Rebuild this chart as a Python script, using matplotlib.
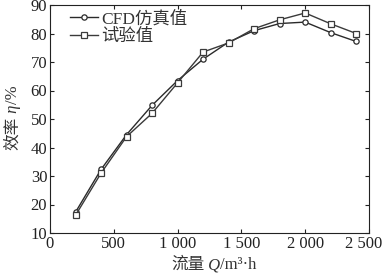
import matplotlib
matplotlib.use("Agg")
import matplotlib.pyplot as plt
import matplotlib.transforms as mtransforms

flow = [200, 400, 600, 800, 1000, 1200, 1400, 1600, 1800, 2000, 2200, 2400]
eff_cfd = [17.3, 32.3, 44.5, 54.8, 63.5, 71.0, 77.0, 81.0, 83.5, 84.0, 80.3, 77.2]
eff_test = [16.2, 31.0, 43.8, 52.0, 62.7, 73.5, 76.7, 81.7, 84.8, 87.2, 83.4, 80.0]
xticks = [0, 500, 1000, 1500, 2000, 2500]
xticklabels = ["0", "500", "1 000", "1 500", "2 000", "2 500"]
yticks = [10, 20, 30, 40, 50, 60, 70, 80, 90]

SERIF = ["Liberation Serif", "Noto Sans CJK SC"]
CJK = ["Noto Sans CJK SC", "Liberation Serif"]
plt.rcParams["font.family"] = SERIF
plt.rcParams["font.size"] = 12

W, H = 386, 276
fig = plt.figure(figsize=(W / 100, H / 100), dpi=100)
ax = fig.add_axes([50 / W, (H - 233) / H, 319 / W, 228 / H])

ax.plot(flow, eff_cfd, color="#2a2a2a", lw=1.0, marker="o", ms=3.8,
        mfc="white", mec="#2a2a2a", mew=0.9, label="CFD仿真值")
ax.plot(flow, eff_test, color="#3a3a3a", lw=1.0, marker="s", ms=4.6,
        mfc="white", mec="#3a3a3a", mew=0.9, label="试验值")

ax.set_xlim(0, 2500)
ax.set_ylim(10, 90)
ax.set_xticks(xticks)
ax.set_xticklabels(xticklabels)
ax.set_yticks(yticks)
ax.tick_params(direction="in", top=True, right=True, length=3, width=0.8,
               colors="#222222", labelsize=12, pad=2)
for s in ax.spines.values():
    s.set_linewidth(0.8)
    s.set_color("#222222")

# last x label sits a little left of its tick so it stays inside the picture
last = ax.get_xticklabels()[-1]
last.set_transform(last.get_transform() +
                   mtransforms.ScaledTranslation(-5 / 100, 0, fig.dpi_scale_trans))

leg = ax.legend(loc="upper left", frameon=False, fontsize=12.5, handlelength=1.6,
                handletextpad=0.2, labelspacing=0.1, borderaxespad=0.0,
                borderpad=0.0, bbox_to_anchor=(0.063, 0.975))
for t in leg.get_texts():
    t.set_color("#333333")


# axis titles mix CJK and italic serif letters, so draw them piece by piece
def pieces_label(x0, y0, pieces, vertical=False):
    r = fig.canvas.get_renderer()
    widths = []
    for txt, kw in pieces:
        t = fig.text(0, 0, txt, **kw)
        bb = t.get_window_extent(r)
        widths.append(bb.width)
        t.remove()
    pos = -sum(widths) / 2
    for (txt, kw), w in zip(pieces, widths):
        if vertical:
            fig.text(x0 / W, (y0 + pos) / H, txt, rotation=90, rotation_mode="anchor",
                     ha="left", va="baseline", **kw)
        else:
            fig.text((x0 + pos) / W, y0 / H, txt, ha="left", va="baseline", **kw)
        pos += w


lab = dict(fontsize=12, color="#333333")
pieces_label(214, 7, [("流量", dict(family=CJK, **lab)),
                      (" Q", dict(family=SERIF, style="italic", **lab)),
                      ("/m³·h", dict(family=SERIF, **lab))])
pieces_label(17, 158, [("效率", dict(family=CJK, **lab)),
                       (" η", dict(family=SERIF, style="italic", **lab)),
                       ("/%", dict(family=SERIF, **lab))], vertical=True)

fig.savefig("out.png", dpi=100)
